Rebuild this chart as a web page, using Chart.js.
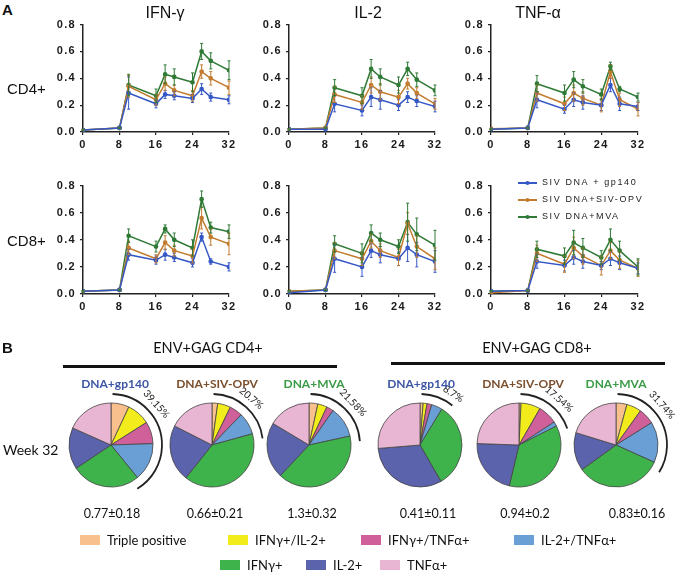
<!DOCTYPE html>
<html>
<head>
<meta charset="utf-8">
<script src="https://cdn.jsdelivr.net/npm/chart.js@4.4.1/dist/chart.umd.min.js"></script>
<style>
  body { margin: 0; background: #fff; }
  #fig { position: relative; width: 678px; height: 577px; overflow: hidden; font-family: Arial, "Liberation Sans", sans-serif; color: #111; }
  #fig canvas { position: absolute; }
  .t { position: absolute; transform: translate(-50%, -50%); white-space: nowrap; }
  .l { position: absolute; transform: translateY(-50%); white-space: nowrap; }
</style>
</head>
<body>
<div id="fig"></div>
<script>
// weeks after first immunization
const weeks = [0, 8, 10, 16, 18, 20, 24, 26, 28, 32];
const groupNames = ["SIV DNA + gp140", "SIV DNA+SIV-OPV", "SIV DNA+MVA"];

// each row: gp140, SIV-OPV, MVA
const cd4IfngMean = [
  [0.015, 0.03, 0.29, 0.21, 0.28, 0.27, 0.25, 0.32, 0.26, 0.24],
  [0.015, 0.03, 0.34, 0.24, 0.36, 0.31, 0.27, 0.45, 0.40, 0.33],
  [0.015, 0.03, 0.35, 0.27, 0.43, 0.41, 0.37, 0.60, 0.53, 0.46]
];
const cd4IfngErr = [
  [0.005, 0.005, 0.12, 0.03, 0.03, 0.03, 0.03, 0.04, 0.03, 0.03],
  [0.005, 0.005, 0.08, 0.04, 0.05, 0.04, 0.04, 0.05, 0.05, 0.05],
  [0.005, 0.005, 0.08, 0.05, 0.07, 0.06, 0.07, 0.06, 0.06, 0.07]
];
const cd4Il2Mean = [
  [0.02, 0.02, 0.21, 0.16, 0.26, 0.24, 0.20, 0.26, 0.23, 0.19],
  [0.02, 0.03, 0.28, 0.22, 0.35, 0.30, 0.26, 0.36, 0.29, 0.21],
  [0.02, 0.03, 0.33, 0.27, 0.47, 0.41, 0.35, 0.47, 0.39, 0.31]
];
const cd4Il2Err = [
  [0.005, 0.005, 0.06, 0.04, 0.07, 0.07, 0.04, 0.04, 0.04, 0.04],
  [0.005, 0.005, 0.06, 0.05, 0.06, 0.06, 0.05, 0.04, 0.04, 0.04],
  [0.005, 0.005, 0.06, 0.06, 0.07, 0.06, 0.06, 0.05, 0.05, 0.04]
];
const cd4TnfMean = [
  [0.02, 0.03, 0.24, 0.17, 0.24, 0.22, 0.20, 0.35, 0.21, 0.19],
  [0.025, 0.03, 0.29, 0.21, 0.29, 0.25, 0.20, 0.45, 0.24, 0.17],
  [0.02, 0.03, 0.36, 0.29, 0.39, 0.34, 0.28, 0.49, 0.32, 0.26]
];
const cd4TnfErr = [
  [0.005, 0.005, 0.06, 0.03, 0.05, 0.05, 0.04, 0.05, 0.05, 0.03],
  [0.005, 0.005, 0.06, 0.05, 0.06, 0.05, 0.05, 0.05, 0.05, 0.05],
  [0.005, 0.005, 0.06, 0.06, 0.06, 0.05, 0.04, 0.03, 0.02, 0.03]
];
const cd8IfngMean = [
  [0.02, 0.03, 0.29, 0.25, 0.29, 0.27, 0.23, 0.42, 0.24, 0.20],
  [0.02, 0.03, 0.34, 0.26, 0.38, 0.32, 0.28, 0.56, 0.42, 0.37],
  [0.02, 0.03, 0.43, 0.35, 0.48, 0.40, 0.34, 0.70, 0.49, 0.46]
];
const cd8IfngErr = [
  [0.005, 0.005, 0.04, 0.03, 0.04, 0.03, 0.03, 0.03, 0.02, 0.03],
  [0.005, 0.005, 0.05, 0.03, 0.05, 0.04, 0.05, 0.08, 0.06, 0.08],
  [0.005, 0.005, 0.05, 0.04, 0.03, 0.05, 0.06, 0.06, 0.04, 0.05]
];
const cd8Il2Mean = [
  [0.01, 0.03, 0.26, 0.20, 0.32, 0.29, 0.26, 0.34, 0.29, 0.24],
  [0.02, 0.03, 0.32, 0.26, 0.39, 0.32, 0.27, 0.52, 0.35, 0.26],
  [0.02, 0.03, 0.37, 0.30, 0.45, 0.40, 0.35, 0.53, 0.44, 0.36]
];
const cd8Il2Err = [
  [0.005, 0.005, 0.10, 0.07, 0.05, 0.06, 0.05, 0.10, 0.09, 0.08],
  [0.005, 0.005, 0.06, 0.05, 0.05, 0.05, 0.06, 0.08, 0.08, 0.08],
  [0.005, 0.005, 0.06, 0.07, 0.06, 0.05, 0.05, 0.14, 0.12, 0.11]
];
const cd8TnfMean = [
  [0.02, 0.025, 0.24, 0.21, 0.27, 0.24, 0.21, 0.26, 0.23, 0.19],
  [0.01, 0.025, 0.30, 0.22, 0.34, 0.28, 0.21, 0.32, 0.25, 0.19],
  [0.02, 0.025, 0.33, 0.28, 0.38, 0.34, 0.27, 0.40, 0.32, 0.20]
];
const cd8TnfErr = [
  [0.005, 0.005, 0.05, 0.04, 0.05, 0.05, 0.03, 0.05, 0.05, 0.04],
  [0.005, 0.005, 0.06, 0.06, 0.08, 0.06, 0.07, 0.06, 0.06, 0.06],
  [0.005, 0.005, 0.06, 0.06, 0.09, 0.07, 0.05, 0.08, 0.07, 0.06]
];

// week 32 pies, % of response per functional subset
const pieCategories = ["Triple positive", "IFNγ+/IL-2+", "IFNγ+/TNFα+", "IL-2+/TNFα+", "IFNγ+", "IL-2+", "TNFα+"];
const cd4Gp140Pie = [7, 9, 8.5, 14.65, 26.5, 16, 18.35];
const cd4OpvPie = [2.2, 5, 5, 8.5, 40, 21.8, 17.5];
const cd4MvaPie = [3.4, 3.6, 2.7, 11.88, 40.4, 21.6, 16.42];
const cd8Gp140Pie = [1.2, 1.5, 1.8, 4.2, 33, 32, 26.3];
const cd8OpvPie = [0.8, 7.5, 7.5, 1.74, 36.2, 21.8, 24.46];
const cd8MvaPie = [4.2, 5.7, 6.2, 15.64, 33.3, 14.7, 20.26];
const pieShareLabels = ["39.15%", "20.7%", "21.58%", "8.7%", "17.54%", "31.74%"];
const pieTotals = ["0.77±0.18", "0.66±0.21", "1.3±0.32", "0.41±0.11", "0.94±0.2", "0.83±0.16"];
const pieGroups = ["DNA+gp140", "DNA+SIV-OPV", "DNA+MVA"];

const lineColors = ["#3558c6", "#c27c30", "#2f7a36"];
const pieColors = ["#f8c08c", "#f2ec1c", "#d0609a", "#6a9fd6", "#3fb34b", "#5a63ab", "#e8b6d3"];
const groupColors = ["#3d55a5", "#7b4f2e", "#3a9b47"];

const fig = document.getElementById("fig");

function addText(txt, x, y, css, cls) {
  const d = document.createElement("div");
  d.className = cls || "t";
  d.textContent = txt;
  d.style.left = x + "px";
  d.style.top = y + "px";
  d.style.cssText += css || "";
  fig.appendChild(d);
  return d;
}
function addBox(x, y, w, h, color) {
  const d = document.createElement("div");
  d.style.cssText = "position:absolute;left:" + x + "px;top:" + y + "px;width:" + w + "px;height:" + h + "px;background:" + color;
  fig.appendChild(d);
}

// --- plugins ---
const spacing = {
  id: "spacing",
  beforeDraw(chart) { chart.ctx.letterSpacing = "1.3px"; }
};

const errorBars = {
  id: "errorBars",
  afterDatasetsDraw(chart) {
    const ctx = chart.ctx, ys = chart.scales.y;
    chart.data.datasets.forEach((ds, i) => {
      const meta = chart.getDatasetMeta(i);
      ctx.save();
      ctx.strokeStyle = ds.borderColor;
      ctx.lineWidth = 1;
      meta.data.forEach((pt, j) => {
        const e = ds.errors[j];
        if (!e) return;
        const v = ds.data[j].y;
        const top = ys.getPixelForValue(v + e), bot = ys.getPixelForValue(Math.max(0, v - e));
        ctx.beginPath();
        ctx.moveTo(pt.x, top); ctx.lineTo(pt.x, bot);
        ctx.moveTo(pt.x - 1.5, top); ctx.lineTo(pt.x + 1.5, top);
        ctx.moveTo(pt.x - 1.5, bot); ctx.lineTo(pt.x + 1.5, bot);
        ctx.stroke();
      });
      ctx.restore();
    });
  }
};

const seriesKey = {
  id: "seriesKey",
  afterDraw(chart, args, opts) {
    const ctx = chart.ctx;
    ctx.save();
    ctx.font = "9px Arial";
    ctx.letterSpacing = "1.6px";
    ctx.textBaseline = "middle";
    chart.data.datasets.forEach((ds, i) => {
      const y = opts.y + i * opts.step;
      ctx.strokeStyle = ds.borderColor;
      ctx.fillStyle = ds.borderColor;
      ctx.lineWidth = 2;
      ctx.beginPath();
      ctx.moveTo(opts.x, y); ctx.lineTo(opts.x + 19, y);
      ctx.stroke();
      ctx.beginPath();
      ctx.arc(opts.x + 9.5, y, 2, 0, Math.PI * 2);
      ctx.fill();
      ctx.fillStyle = "#222";
      ctx.fillText(ds.label, opts.x + 24, y);
    });
    ctx.restore();
  }
};

const shareArc = {
  id: "shareArc",
  afterDraw(chart, args, opts) {
    const meta = chart.getDatasetMeta(0);
    const a0 = meta.data[0], a3 = meta.data[3];
    const ctx = chart.ctx;
    const cx = a0.x, cy = a0.y, r = a0.outerRadius;
    ctx.save();
    ctx.strokeStyle = "#222";
    ctx.lineWidth = 1.8;
    ctx.beginPath();
    ctx.arc(cx, cy, r + 9, a0.startAngle + 0.03, a3.endAngle + 0.14);
    ctx.stroke();
    const th = opts.angle * Math.PI / 180;
    const tr = r + 19;
    ctx.translate(cx + tr * Math.sin(th), cy - tr * Math.cos(th));
    ctx.rotate(th);
    ctx.font = "10px Lato, 'Open Sans', sans-serif";
    ctx.fillStyle = "#222";
    ctx.textAlign = "center";
    ctx.textBaseline = "middle";
    ctx.fillText(opts.text, 0, 0);
    ctx.restore();
  }
};

// --- line charts ---
function lineChart(means, errs, box, key) {
  const padT = 9, padR = 10, yW = 45, xH = 26;
  const c = document.createElement("canvas");
  c.width = box[2] - box[0] + yW + padR;
  c.height = box[3] - box[1] + padT + xH;
  c.style.left = (box[0] - yW) + "px";
  c.style.top = (box[1] - padT) + "px";
  fig.appendChild(c);
  const tickFont = { family: "Arial", weight: "bold", size: 11 };
  const axisGrid = { drawOnChartArea: false, tickLength: 3, color: "#222", lineWidth: 1.2 };
  const axisBorder = { color: "#222", width: 1.5 };
  new Chart(c, {
    type: "line",
    data: {
      datasets: means.map((m, i) => ({
        label: groupNames[i],
        data: weeks.map((w, j) => ({ x: w, y: m[j] })),
        errors: errs[i],
        borderColor: lineColors[i],
        backgroundColor: lineColors[i],
        borderWidth: 1.5,
        pointRadius: 1.6,
        pointHoverRadius: 1.6,
        tension: 0
      }))
    },
    options: {
      responsive: false,
      animation: false,
      layout: { padding: { left: 0, top: padT, right: padR, bottom: 0 } },
      plugins: {
        legend: { display: false },
        tooltip: { enabled: false },
        seriesKey: key || {}
      },
      scales: {
        x: {
          type: "linear", min: 0, max: 32,
          afterFit(s) { s.height = xH; },
          ticks: { stepSize: 8, color: "#1a1a1a", font: tickFont, padding: 3 },
          grid: axisGrid, border: axisBorder
        },
        y: {
          min: 0, max: 0.8,
          afterFit(s) { s.width = yW; },
          ticks: { stepSize: 0.2, color: "#1a1a1a", font: tickFont, padding: 4, callback: v => v.toFixed(1) },
          grid: axisGrid, border: axisBorder
        }
      }
    },
    plugins: key ? [spacing, errorBars, seriesKey] : [spacing, errorBars]
  });
}

lineChart(cd4IfngMean, cd4IfngErr, [83, 23, 229, 132]);
lineChart(cd4Il2Mean, cd4Il2Err, [289, 23, 435, 132]);
lineChart(cd4TnfMean, cd4TnfErr, [491, 23, 638, 132]);
lineChart(cd8IfngMean, cd8IfngErr, [83, 184, 229, 294]);
lineChart(cd8Il2Mean, cd8Il2Err, [289, 184, 435, 294]);
lineChart(cd8TnfMean, cd8TnfErr, [491, 184, 638, 294], { x: 72, y: 8, step: 17 });

// --- pies ---
function pieChart(values, cx, cy, shareText, textAngle) {
  const c = document.createElement("canvas");
  c.width = 160; c.height = 140;
  c.style.left = (cx - 80) + "px";
  c.style.top = (cy - 70) + "px";
  fig.appendChild(c);
  new Chart(c, {
    type: "pie",
    data: {
      labels: pieCategories,
      datasets: [{ data: values, backgroundColor: pieColors, borderColor: "#444", borderWidth: 0.8 }]
    },
    options: {
      responsive: false,
      animation: false,
      radius: 42,
      layout: { padding: 0 },
      plugins: {
        legend: { display: false },
        tooltip: { enabled: false },
        shareArc: { text: shareText, angle: textAngle }
      }
    },
    plugins: [shareArc]
  });
}

const pieSets = [cd4Gp140Pie, cd4OpvPie, cd4MvaPie, cd8Gp140Pie, cd8OpvPie, cd8MvaPie];
const pieX = [111, 212, 309, 420, 519, 616];
const groupX = [115, 217, 314, 421, 523, 616];
const totalX = [112, 215, 312, 428, 525, 637];
const textAngles = [48, 40, 46, 33, 41, 49];
pieSets.forEach((v, i) => {
  pieChart(v, pieX[i], 445, pieShareLabels[i], textAngles[i]);
  addText(pieGroups[i % 3], groupX[i], 383, "font:bold 12px Lato,sans-serif;color:" + groupColors[i % 3] + ";");
  addText(pieTotals[i], totalX[i], 513, "font:12.5px Lato,sans-serif;");
});

// --- text ---
addText("A", 2, 9, "font:bold 15px Arial;", "l");
addText("IFN-γ", 165, 13, "font:16px Arial;");
addText("IL-2", 368, 13, "font:16px Arial;");
addText("TNF-α", 538, 13, "font:16px Arial;");
addText("CD4+", 7, 88, "font:15px Arial;", "l");
addText("CD8+", 7, 240, "font:15px Arial;", "l");

addText("B", 2, 347, "font:bold 15px Arial;", "l");
addText("ENV+GAG CD4+", 208, 347, "font:14.5px Lato,sans-serif;");
addText("ENV+GAG CD8+", 537, 347, "font:14.5px Lato,sans-serif;");
addBox(63, 365, 274, 3, "#111");
addBox(391, 362, 274, 3, "#111");
addText("Week 32", 3, 449, "font:14px Lato,sans-serif;", "l");

// bottom key
const keyPos = [[80, 540], [228, 540], [361, 540], [514, 540], [220, 565], [306, 565], [380, 565]];
pieCategories.forEach((name, i) => {
  const [x, y] = keyPos[i];
  addBox(x, y - 5, 20, 10, pieColors[i]);
  addText(name, x + 27, y, "font:13px Lato,sans-serif;", "l");
});
</script>
</body>
</html>
